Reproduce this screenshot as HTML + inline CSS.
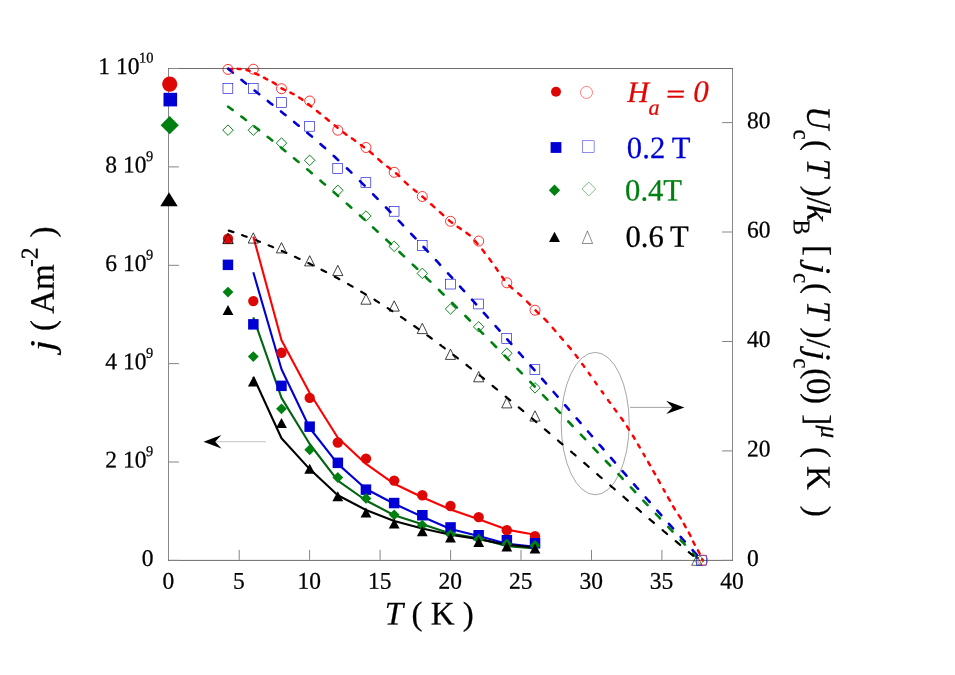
<!DOCTYPE html>
<html><head><meta charset="utf-8"><title>chart</title>
<style>
html,body{margin:0;padding:0;background:#fff;}
body{width:955px;height:675px;overflow:hidden;}
svg{display:block;will-change:transform;}
text{font-family:"Liberation Serif",serif;fill:#000;stroke:#000;stroke-width:0.25px;}
.i{font-style:italic;}
</style></head><body>
<svg width="955" height="675" viewBox="0 0 955 675">
<rect width="955" height="675" fill="#fff"/>
<path d="M168.5 68.0V560.9M732.5 68.0V560.9" stroke="#878787" stroke-width="1" fill="none"/>
<path d="M168 68.5H733M168 560.4H733" stroke="#6c6c6c" stroke-width="1" fill="none"/>
<g stroke="#858585" stroke-width="1" fill="none">
<path d="M169 560.4h9.9"/>
<path d="M169 462.0h9.9"/>
<path d="M169 363.6h9.9"/>
<path d="M169 265.3h9.9"/>
<path d="M169 166.9h9.9"/>
<path d="M169 68.5h9.9"/>
<path d="M732 560.4h-9.9"/>
<path d="M732 450.9h-9.9"/>
<path d="M732 341.5h-9.9"/>
<path d="M732 232.0h-9.9"/>
<path d="M732 122.6h-9.9"/>
<path d="M239.2 559.9v-10"/>
<path d="M309.6 559.9v-10"/>
<path d="M380.1 559.9v-10"/>
<path d="M450.6 559.9v-10"/>
<path d="M521.0 559.9v-10"/>
<path d="M591.5 559.9v-10"/>
<path d="M661.9 559.9v-10"/>
</g>
<ellipse cx="595.2" cy="423.6" rx="34" ry="71.2" fill="none" stroke="#808080" stroke-width="0.7"/>
<path d="M630.2 407.4H672.4" stroke="#8c8c8c" stroke-width="0.8"/>
<path d="M684.4 407.4L666.2 400.8L672.4 407.4L666.2 413.9Z" fill="#000"/>
<path d="M215.2 441.7H265.9" stroke="#bdbdbd" stroke-width="0.9"/>
<path d="M203.5 441.7L221.4 435L215.2 441.7L221.4 448.4Z" fill="#000"/>
<path d="M228.7 69.0L229.7 69.0L230.8 68.9L232.0 68.9M237.6 68.8L238.8 68.9L239.8 68.9L240.8 69.0M246.4 69.9L247.3 70.2L248.5 70.5L249.6 70.9M255.1 73.3L256.2 73.8L257.3 74.3L258.5 74.9M263.9 77.7L264.9 78.2L266.0 78.8L267.2 79.4M272.7 82.2L273.9 82.9L275.0 83.6L276.1 84.4M281.5 88.3L282.5 88.8L283.6 89.4L284.9 90.0M290.4 92.6L291.5 93.1L292.5 93.7L293.6 94.2M299.1 97.5L300.0 98.1L301.2 98.8L302.4 99.7M308.1 104.0L309.2 104.8L310.2 105.6L311.3 106.5M316.9 111.0L317.9 111.8L319.0 112.7L320.1 113.5M325.6 118.0L326.6 118.8L327.7 119.7L328.9 120.7M334.6 125.3L335.5 126.1L336.4 126.8L337.6 127.8M343.3 132.4L344.3 133.1L345.4 134.0L346.4 134.7M351.9 138.4L352.8 139.0L353.9 139.8L355.2 140.8M360.9 145.0L361.8 145.6L362.7 146.3L364.0 147.2M369.7 151.6L370.8 152.4L371.7 153.2L372.8 154.1M378.3 159.1L379.3 160.0L380.3 161.0L381.6 162.1M387.2 166.5L388.3 167.3L389.3 168.1L390.4 168.9M396.0 173.3L397.1 174.2L398.1 175.0L399.2 176.0M404.7 181.7L405.6 182.6L406.6 183.4L407.8 184.6M413.7 189.5L414.5 190.1L415.6 191.0L416.6 191.8M422.3 196.5L423.3 197.3L424.2 198.2L425.4 199.2M431.1 204.2L432.1 205.0L433.2 206.1L434.4 207.1M439.9 212.1L441.0 213.2L442.1 214.2L443.2 215.2M448.9 220.3L449.9 221.1L450.9 221.9L452.1 222.8M457.6 226.7L458.6 227.4L459.6 228.0L460.8 228.9M466.4 232.7L467.6 233.7L468.6 234.5L469.7 235.3M474.8 240.6L475.6 241.6L476.6 242.7L477.6 244.0M482.2 249.6L483.0 250.6L483.8 251.6L484.6 252.7M489.2 258.6L490.0 259.6L490.7 260.7L491.5 261.7M495.7 267.6L496.2 268.3L497.0 269.5L497.8 270.7M502.0 276.7L502.8 277.8L503.5 278.9L504.3 279.9M509.3 285.6L510.2 286.4L511.2 287.4L512.3 288.4M518.1 293.3L519.2 294.1L520.2 295.0L521.2 295.9M527.0 301.5L527.8 302.4L528.9 303.5L530.0 304.6M535.6 310.4L536.6 311.4L537.6 312.4L538.8 313.5M544.3 318.7L545.3 319.7L546.4 320.8L547.5 322.0M552.7 327.8L553.4 328.7L554.4 329.8L555.4 331.0M560.2 336.7L561.0 337.5L562.0 338.7L562.9 339.8M568.1 345.7L569.0 346.7L569.8 347.7L570.8 348.9M575.4 354.8L576.2 355.7L576.9 356.7L577.7 357.8M582.2 364.0L582.8 364.7L583.3 365.4L584.3 366.8M588.7 372.9L589.3 373.7L589.8 374.5L590.4 375.3M595.0 381.7L595.6 382.6L596.1 383.4L596.7 384.2M601.7 391.2L602.2 391.9L602.8 392.6L603.3 393.4M608.0 400.0L608.4 400.6L609.2 401.7L610.1 402.8M614.4 408.8L615.1 409.7L615.8 410.6L616.4 411.5M621.0 417.8L621.6 418.6L622.3 419.5L623.2 420.8M627.0 426.4L627.7 427.5L628.3 428.5L629.0 429.6M632.8 435.7L633.2 436.3L633.9 437.4L634.6 438.6M638.0 444.5L638.4 445.1L639.1 446.3L639.8 447.5M643.4 453.7L643.8 454.3L644.1 455.0L644.8 456.2M648.2 462.0L648.5 462.7L649.3 464.0L650.1 465.3M653.3 471.1L653.8 471.8L654.2 472.6L655.1 474.2M658.2 479.7L658.6 480.5L659.1 481.3L659.9 482.9M663.5 489.2L663.9 490.0L664.3 490.8L664.8 491.5M668.0 497.4L668.4 498.1L669.2 499.4L669.9 500.7M673.0 506.2L673.6 507.1L674.3 508.4L674.9 509.5M678.6 515.1L679.3 516.1L680.0 517.1L680.8 518.4M683.9 523.8L684.5 524.9L685.1 526.0L685.7 527.2M688.8 532.6L689.3 533.6L689.9 534.7L690.6 536.0M693.1 541.5L693.7 542.7L694.2 543.8L694.7 544.8M697.9 550.3L698.4 551.3L699.0 552.3L699.7 553.7M702.2 559.2L702.4 559.6L702.6 560.0L702.8 560.4" fill="none" stroke="#ff0000" stroke-width="2.45" stroke-linecap="round"/>
<path d="M228.2 68.7L229.7 70.0L231.2 71.3L232.8 72.6M241.4 79.8L242.9 81.1L244.4 82.3L246.0 83.6M254.6 90.6L256.1 91.8L257.6 93.0L259.2 94.2M267.8 101.0L269.3 102.2L270.8 103.4L272.3 104.6M281.0 111.5L282.5 112.7L284.0 113.9L285.5 115.1M294.1 122.0L295.6 123.2L297.1 124.4L298.7 125.7M307.3 132.8L308.8 134.1L310.3 135.3L311.9 136.6M320.5 144.1L322.0 145.4L323.5 146.7L325.1 148.1M333.7 155.9L335.2 157.3L336.7 158.7L338.2 160.1M346.9 168.3L348.4 169.7L349.9 171.2L351.4 172.7M360.0 181.1L361.5 182.6L363.0 184.1L364.6 185.7M373.2 194.3L374.6 195.8L376.1 197.3L377.6 198.9M386.0 207.5L387.5 209.0L388.9 210.5L390.4 212.1M398.7 220.7L400.2 222.2L401.6 223.7L403.1 225.3M411.2 233.8L412.6 235.3L414.1 236.9L415.5 238.4M423.6 247.0L425.0 248.5L426.4 250.0L427.9 251.6M435.9 260.2L437.3 261.7L438.7 263.2L440.1 264.8M448.0 273.4L449.4 274.9L450.8 276.4L452.2 277.9M460.1 286.6L461.4 288.1L462.8 289.6L464.2 291.1M472.0 299.7L473.3 301.2L474.7 302.7L476.1 304.3M483.8 312.9L485.2 314.4L486.5 315.9L487.9 317.5M495.6 326.1L496.9 327.6L498.3 329.1L499.6 330.6M507.3 339.3L508.6 340.8L510.0 342.3L511.3 343.9M518.9 352.5L520.2 353.9L521.6 355.5L522.9 357.0M530.5 365.7L531.8 367.1L533.2 368.7L534.5 370.2M542.1 378.8L543.4 380.3L544.7 381.8L546.0 383.4M553.6 392.0L554.9 393.5L556.2 395.0L557.6 396.6M565.1 405.2L566.4 406.7L567.7 408.2L569.0 409.7M576.6 418.4L577.9 419.9L579.2 421.4L580.5 422.9M588.0 431.5L589.3 433.0L590.6 434.5L592.0 436.1M599.5 444.8L600.8 446.2L602.1 447.7L603.5 449.3M611.0 457.9L612.3 459.4L613.6 460.9L615.0 462.5M622.5 471.1L623.8 472.6L625.2 474.1L626.5 475.7M634.1 484.3L635.4 485.8L636.7 487.3L638.1 488.8M645.7 497.5L647.0 499.0L648.3 500.5L649.7 502.0M657.3 510.6L658.6 512.2L660.0 513.7L661.3 515.2M669.0 523.8L670.3 525.3L671.7 526.9L673.0 528.4M680.7 537.0L682.1 538.5L683.4 540.0L684.8 541.6M692.6 550.2L693.9 551.7L695.3 553.2L696.7 554.7" fill="none" stroke="#0000d4" stroke-width="2.6" stroke-linecap="round"/>
<path d="M228.1 106.7L229.6 107.8L231.1 108.9L232.7 110.0M241.3 116.5L242.8 117.6L244.3 118.8L245.9 120.0M254.5 126.6L256.0 127.8L257.5 128.9L259.1 130.1M267.7 136.9L269.2 138.1L270.7 139.3L272.2 140.5M280.9 147.5L282.4 148.7L283.9 149.9L285.4 151.2M294.0 158.3L295.5 159.5L297.0 160.8L298.6 162.0M307.2 169.3L308.7 170.6L310.2 171.8L311.8 173.2M320.4 180.6L321.9 181.9L323.4 183.2L325.0 184.5M333.6 192.0L335.1 193.3L336.6 194.6L338.1 196.0M346.8 203.6L348.3 205.0L349.8 206.3L351.3 207.7M359.9 215.5L361.4 216.8L362.9 218.2L364.5 219.6M373.1 227.5L374.6 228.9L376.1 230.3L377.7 231.7M386.3 239.7L387.8 241.1L389.3 242.5L390.9 244.0M399.5 252.0L401.0 253.5L402.5 254.9L404.0 256.3M412.7 264.6L414.2 266.0L415.7 267.4L417.2 268.9M425.8 277.2L427.3 278.7L428.8 280.1L430.4 281.6M439.0 290.0L440.5 291.5L442.0 293.0L443.6 294.5M452.2 303.0L453.7 304.5L455.2 306.0L456.8 307.5M465.4 316.0L466.9 317.5L468.4 319.0L469.9 320.6M478.6 329.2L480.1 330.8L481.6 332.3L483.1 333.8M491.6 342.4L493.1 343.9L494.6 345.5L496.1 347.0M504.6 355.6L506.0 357.0L507.5 358.6L509.0 360.1M517.5 368.8L518.9 370.3L520.4 371.8L521.9 373.3M530.3 381.9L531.7 383.4L533.2 384.9L534.7 386.5M543.0 395.1L544.5 396.6L545.9 398.1L547.4 399.7M555.7 408.3L557.1 409.8L558.6 411.3L560.1 412.9M568.3 421.5L569.8 423.0L571.2 424.5L572.7 426.1M580.9 434.7L582.3 436.2L583.8 437.7L585.2 439.2M593.4 447.9L594.8 449.3L596.3 450.9L597.7 452.4M605.9 461.0L607.3 462.5L608.8 464.0L610.2 465.6M618.4 474.2L619.8 475.7L621.3 477.2L622.7 478.8M630.9 487.4L632.3 488.9L633.7 490.4L635.2 492.0M643.3 500.6L644.7 502.1L646.2 503.6L647.6 505.1M655.8 513.8L657.2 515.3L658.6 516.7L660.0 518.3M668.2 526.9L669.6 528.4L671.0 529.9L672.5 531.5M680.6 540.1L682.0 541.6L683.5 543.1L684.9 544.6M693.1 553.3L694.5 554.8L696.0 556.3L697.4 557.8" fill="none" stroke="#008011" stroke-width="2.6" stroke-linecap="round"/>
<path d="M228.8 230.6L230.3 231.1L231.8 231.6L233.4 232.1M242.1 235.1L243.6 235.7L245.1 236.2L246.6 236.8M255.3 240.0L256.8 240.6L258.3 241.2L259.9 241.8M268.6 245.3L270.1 245.9L271.6 246.5L273.1 247.2M281.8 250.9L283.3 251.5L284.8 252.2L286.4 252.9M295.0 256.8L296.5 257.5L298.0 258.2L299.6 258.9M308.3 263.1L309.8 263.8L311.3 264.6L312.8 265.3M321.5 269.7L323.0 270.5L324.5 271.3L326.1 272.1M334.8 276.7L336.3 277.5L337.8 278.3L339.3 279.2M348.0 284.0L349.5 284.9L351.0 285.7L352.6 286.6M361.2 291.7L362.7 292.6L364.2 293.5L365.8 294.4M374.5 299.7L376.0 300.7L377.5 301.6L379.0 302.6M387.7 308.1L389.2 309.1L390.7 310.1L392.3 311.1M401.0 316.9L402.5 317.9L404.0 318.9L405.5 320.0M414.2 326.0L415.7 327.0L417.2 328.1L418.7 329.2M427.3 335.3L428.8 336.4L430.3 337.5L431.8 338.6M440.3 344.9L441.8 346.1L443.3 347.2L444.8 348.3M453.4 354.9L454.9 356.0L456.4 357.2L457.9 358.3M466.5 365.0L468.0 366.1L469.5 367.3L471.0 368.5M479.6 375.3L481.1 376.5L482.6 377.7L484.1 378.9M492.6 385.8L494.1 387.1L495.6 388.3L497.1 389.5M505.7 396.6L507.2 397.8L508.7 399.0L510.2 400.3M518.8 407.4L520.3 408.6L521.8 409.9L523.3 411.1M531.9 418.3L533.4 419.6L534.9 420.9L536.4 422.1M544.9 429.4L546.4 430.6L547.9 431.9L549.4 433.2M558.0 440.5L559.5 441.8L561.0 443.1L562.5 444.3M571.1 451.7L572.6 453.0L574.1 454.2L575.6 455.5M584.2 462.9L585.7 464.2L587.2 465.5L588.7 466.8M597.2 474.2L598.7 475.5L600.2 476.8L601.7 478.0M610.3 485.5L611.8 486.8L613.3 488.0L614.8 489.3M623.4 496.7L624.9 498.0L626.4 499.3L627.9 500.6M636.5 507.9L638.0 509.2L639.5 510.5L641.0 511.8M649.5 519.1L651.0 520.4L652.5 521.6L654.0 522.9M662.6 530.2L664.1 531.5L665.6 532.7L667.1 534.0M675.7 541.2L677.2 542.4L678.7 543.7L680.2 545.0M688.8 552.1L690.3 553.4L691.8 554.6L693.3 555.8" fill="none" stroke="#000" stroke-width="2.2" stroke-linecap="round"/>
<path d="M253.3 236.6L281.5 340.3L309.7 393.0L337.8 437.7L366.0 463.9L394.2 483.8L422.3 497.3L450.5 509.5L478.7 519.3L506.8 529.6L535.0 534.8" fill="none" stroke="#ff0000" stroke-width="2.1" stroke-linejoin="round"/>
<path d="M253.3 272.3L281.5 369.2L309.7 428.0L337.8 463.9L366.0 489.0L394.2 503.7L422.3 516.8L450.5 529.0L478.7 535.9L506.8 543.7L535.0 546.8" fill="none" stroke="#0000d4" stroke-width="2.1" stroke-linejoin="round"/>
<path d="M253.3 317.3L281.5 397.9L309.7 444.0L337.8 480.6L366.0 500.5L394.2 515.2L422.3 524.2L450.5 533.6L478.7 538.4L506.8 546.1L535.0 548.4" fill="none" stroke="#006411" stroke-width="2.1" stroke-linejoin="round"/>
<path d="M253.3 376.8L281.5 438.3L309.7 469.1L337.8 495.3L366.0 510.0L394.2 521.0L422.3 528.4L450.5 534.7L478.7 539.1L506.8 544.7L535.0 547.5" fill="none" stroke="#000" stroke-width="2.1" stroke-linejoin="round"/>
<circle cx="228.0" cy="69.4" r="5" fill="none" stroke="#ff0000" stroke-width="0.8"/>
<circle cx="253.3" cy="69.2" r="5" fill="none" stroke="#ff0000" stroke-width="0.8"/>
<circle cx="281.5" cy="88.7" r="5" fill="none" stroke="#ff0000" stroke-width="0.8"/>
<circle cx="309.7" cy="101.0" r="5" fill="none" stroke="#ff0000" stroke-width="0.8"/>
<circle cx="337.8" cy="130.2" r="5" fill="none" stroke="#ff0000" stroke-width="0.8"/>
<circle cx="366.0" cy="147.5" r="5" fill="none" stroke="#ff0000" stroke-width="0.8"/>
<circle cx="394.2" cy="172.3" r="5" fill="none" stroke="#ff0000" stroke-width="0.8"/>
<circle cx="422.3" cy="196.5" r="5" fill="none" stroke="#ff0000" stroke-width="0.8"/>
<circle cx="450.5" cy="221.3" r="5" fill="none" stroke="#ff0000" stroke-width="0.8"/>
<circle cx="478.7" cy="241.1" r="5" fill="none" stroke="#ff0000" stroke-width="0.8"/>
<circle cx="506.8" cy="282.8" r="5" fill="none" stroke="#ff0000" stroke-width="0.8"/>
<circle cx="535.0" cy="310.2" r="5" fill="none" stroke="#ff0000" stroke-width="0.8"/>
<rect x="223.0" y="83.5" width="9.8" height="9.8" fill="none" stroke="#0000d4" stroke-width="0.6"/>
<rect x="248.3" y="83.5" width="9.8" height="9.8" fill="none" stroke="#0000d4" stroke-width="0.6"/>
<rect x="276.5" y="97.7" width="9.8" height="9.8" fill="none" stroke="#0000d4" stroke-width="0.6"/>
<rect x="304.7" y="121.4" width="9.8" height="9.8" fill="none" stroke="#0000d4" stroke-width="0.6"/>
<rect x="332.8" y="163.5" width="9.8" height="9.8" fill="none" stroke="#0000d4" stroke-width="0.6"/>
<rect x="361.0" y="177.7" width="9.8" height="9.8" fill="none" stroke="#0000d4" stroke-width="0.6"/>
<rect x="389.2" y="206.4" width="9.8" height="9.8" fill="none" stroke="#0000d4" stroke-width="0.6"/>
<rect x="417.3" y="240.5" width="9.8" height="9.8" fill="none" stroke="#0000d4" stroke-width="0.6"/>
<rect x="445.5" y="279.2" width="9.8" height="9.8" fill="none" stroke="#0000d4" stroke-width="0.6"/>
<rect x="473.7" y="299.1" width="9.8" height="9.8" fill="none" stroke="#0000d4" stroke-width="0.6"/>
<rect x="501.8" y="333.5" width="9.8" height="9.8" fill="none" stroke="#0000d4" stroke-width="0.6"/>
<rect x="530.0" y="364.7" width="9.8" height="9.8" fill="none" stroke="#0000d4" stroke-width="0.6"/>
<path d="M228.0 124.9L233.2 130.2L228.0 135.4L222.7 130.2Z" fill="none" stroke="#008011" stroke-width="0.95"/>
<path d="M253.3 124.9L258.6 130.2L253.3 135.4L248.1 130.2Z" fill="none" stroke="#008011" stroke-width="0.95"/>
<path d="M281.5 137.8L286.7 143.1L281.5 148.3L276.2 143.1Z" fill="none" stroke="#008011" stroke-width="0.95"/>
<path d="M309.7 155.1L314.9 160.3L309.7 165.6L304.4 160.3Z" fill="none" stroke="#008011" stroke-width="0.95"/>
<path d="M337.8 185.1L343.1 190.3L337.8 195.6L332.6 190.3Z" fill="none" stroke="#008011" stroke-width="0.95"/>
<path d="M366.0 210.8L371.2 216.0L366.0 221.2L360.7 216.0Z" fill="none" stroke="#008011" stroke-width="0.95"/>
<path d="M394.2 241.1L399.4 246.3L394.2 251.6L388.9 246.3Z" fill="none" stroke="#008011" stroke-width="0.95"/>
<path d="M422.3 268.1L427.6 273.4L422.3 278.6L417.1 273.4Z" fill="none" stroke="#008011" stroke-width="0.95"/>
<path d="M450.5 303.8L455.8 309.0L450.5 314.2L445.3 309.0Z" fill="none" stroke="#008011" stroke-width="0.95"/>
<path d="M478.7 321.6L483.9 326.8L478.7 332.1L473.4 326.8Z" fill="none" stroke="#008011" stroke-width="0.95"/>
<path d="M506.8 348.1L512.1 353.3L506.8 358.6L501.6 353.3Z" fill="none" stroke="#008011" stroke-width="0.95"/>
<path d="M535.0 382.6L540.3 387.8L535.0 393.1L529.8 387.8Z" fill="none" stroke="#008011" stroke-width="0.95"/>
<path d="M228.0 233.1L233.1 243.4L222.9 243.4Z" fill="none" stroke="#000" stroke-width="0.75"/>
<path d="M253.3 232.8L258.4 243.1L248.2 243.1Z" fill="none" stroke="#000" stroke-width="0.75"/>
<path d="M281.5 242.6L286.6 252.9L276.4 252.9Z" fill="none" stroke="#000" stroke-width="0.75"/>
<path d="M309.7 255.7L314.8 265.9L304.6 265.9Z" fill="none" stroke="#000" stroke-width="0.75"/>
<path d="M337.8 265.3L342.9 275.6L332.7 275.6Z" fill="none" stroke="#000" stroke-width="0.75"/>
<path d="M366.0 294.0L371.1 304.2L360.9 304.2Z" fill="none" stroke="#000" stroke-width="0.75"/>
<path d="M394.2 300.8L399.3 311.1L389.1 311.1Z" fill="none" stroke="#000" stroke-width="0.75"/>
<path d="M422.3 323.3L427.4 333.6L417.2 333.6Z" fill="none" stroke="#000" stroke-width="0.75"/>
<path d="M450.5 349.1L455.6 359.4L445.4 359.4Z" fill="none" stroke="#000" stroke-width="0.75"/>
<path d="M478.7 371.5L483.8 381.8L473.6 381.8Z" fill="none" stroke="#000" stroke-width="0.75"/>
<path d="M506.8 397.6L511.9 407.9L501.7 407.9Z" fill="none" stroke="#000" stroke-width="0.75"/>
<path d="M535.0 410.8L540.1 421.1L529.9 421.1Z" fill="none" stroke="#000" stroke-width="0.75"/>
<path d="M696.9 555.3L702.1 565.3L691.7 565.3Z" fill="none" stroke="#000" stroke-width="0.6"/>
<path d="M699.2 554.9L704.5 560.2L699.2 565.5L693.9 560.2Z" fill="none" stroke="#008011" stroke-width="0.7"/>
<rect x="696.5" y="555.2" width="10" height="10" fill="none" stroke="#0000d4" stroke-width="0.6"/>
<circle cx="702.8" cy="560.2" r="5" fill="none" stroke="#ff0000" stroke-width="0.6"/>
<circle cx="228.0" cy="238.7" r="5.2" fill="#dd0806" stroke="none" stroke-width="0"/>
<circle cx="253.3" cy="301.1" r="5.2" fill="#dd0806" stroke="none" stroke-width="0"/>
<circle cx="281.5" cy="352.8" r="5.2" fill="#dd0806" stroke="none" stroke-width="0"/>
<circle cx="309.7" cy="397.9" r="5.2" fill="#dd0806" stroke="none" stroke-width="0"/>
<circle cx="337.8" cy="442.5" r="5.2" fill="#dd0806" stroke="none" stroke-width="0"/>
<circle cx="366.0" cy="458.6" r="5.2" fill="#dd0806" stroke="none" stroke-width="0"/>
<circle cx="394.2" cy="480.6" r="5.2" fill="#dd0806" stroke="none" stroke-width="0"/>
<circle cx="422.3" cy="495.2" r="5.2" fill="#dd0806" stroke="none" stroke-width="0"/>
<circle cx="450.5" cy="506.0" r="5.2" fill="#dd0806" stroke="none" stroke-width="0"/>
<circle cx="478.7" cy="517.1" r="5.2" fill="#dd0806" stroke="none" stroke-width="0"/>
<circle cx="506.8" cy="530.2" r="5.2" fill="#dd0806" stroke="none" stroke-width="0"/>
<circle cx="535.0" cy="536.3" r="5.2" fill="#dd0806" stroke="none" stroke-width="0"/>
<rect x="222.7" y="259.6" width="10.5" height="10.5" fill="#0000d4" stroke="none" stroke-width="0"/>
<rect x="248.1" y="319.1" width="10.5" height="10.5" fill="#0000d4" stroke="none" stroke-width="0"/>
<rect x="276.2" y="380.6" width="10.5" height="10.5" fill="#0000d4" stroke="none" stroke-width="0"/>
<rect x="304.4" y="421.4" width="10.5" height="10.5" fill="#0000d4" stroke="none" stroke-width="0"/>
<rect x="332.6" y="457.6" width="10.5" height="10.5" fill="#0000d4" stroke="none" stroke-width="0"/>
<rect x="360.7" y="484.4" width="10.5" height="10.5" fill="#0000d4" stroke="none" stroke-width="0"/>
<rect x="388.9" y="497.8" width="10.5" height="10.5" fill="#0000d4" stroke="none" stroke-width="0"/>
<rect x="417.1" y="510.0" width="10.5" height="10.5" fill="#0000d4" stroke="none" stroke-width="0"/>
<rect x="445.3" y="522.2" width="10.5" height="10.5" fill="#0000d4" stroke="none" stroke-width="0"/>
<rect x="473.4" y="530.0" width="10.5" height="10.5" fill="#0000d4" stroke="none" stroke-width="0"/>
<rect x="501.6" y="535.0" width="10.5" height="10.5" fill="#0000d4" stroke="none" stroke-width="0"/>
<rect x="529.8" y="538.0" width="10.5" height="10.5" fill="#0000d4" stroke="none" stroke-width="0"/>
<path d="M228.0 286.7L233.4 292.1L228.0 297.5L222.6 292.1Z" fill="#008011" stroke="none" stroke-width="0"/>
<path d="M253.3 351.2L258.7 356.6L253.3 362.0L247.9 356.6Z" fill="#008011" stroke="none" stroke-width="0"/>
<path d="M281.5 403.4L286.9 408.8L281.5 414.2L276.1 408.8Z" fill="#008011" stroke="none" stroke-width="0"/>
<path d="M309.7 444.4L315.1 449.8L309.7 455.2L304.3 449.8Z" fill="#008011" stroke="none" stroke-width="0"/>
<path d="M337.8 472.1L343.2 477.5L337.8 482.9L332.4 477.5Z" fill="#008011" stroke="none" stroke-width="0"/>
<path d="M366.0 493.0L371.4 498.4L366.0 503.8L360.6 498.4Z" fill="#008011" stroke="none" stroke-width="0"/>
<path d="M394.2 509.4L399.6 514.8L394.2 520.2L388.8 514.8Z" fill="#008011" stroke="none" stroke-width="0"/>
<path d="M422.3 519.8L427.7 525.2L422.3 530.6L416.9 525.2Z" fill="#008011" stroke="none" stroke-width="0"/>
<path d="M450.5 529.2L455.9 534.6L450.5 540.0L445.1 534.6Z" fill="#008011" stroke="none" stroke-width="0"/>
<path d="M478.7 533.8L484.1 539.2L478.7 544.6L473.3 539.2Z" fill="#008011" stroke="none" stroke-width="0"/>
<path d="M506.8 538.5L512.2 543.9L506.8 549.3L501.4 543.9Z" fill="#008011" stroke="none" stroke-width="0"/>
<path d="M535.0 540.1L540.4 545.5L535.0 550.9L529.6 545.5Z" fill="#008011" stroke="none" stroke-width="0"/>
<path d="M228.0 305.0L233.4 315.0L222.6 315.0Z" fill="#000" stroke="none" stroke-width="0"/>
<path d="M253.3 376.5L258.7 386.5L247.9 386.5Z" fill="#000" stroke="none" stroke-width="0"/>
<path d="M281.5 418.0L286.9 428.0L276.1 428.0Z" fill="#000" stroke="none" stroke-width="0"/>
<path d="M309.7 463.7L315.1 473.7L304.3 473.7Z" fill="#000" stroke="none" stroke-width="0"/>
<path d="M337.8 491.3L343.2 501.3L332.4 501.3Z" fill="#000" stroke="none" stroke-width="0"/>
<path d="M366.0 507.5L371.4 517.5L360.6 517.5Z" fill="#000" stroke="none" stroke-width="0"/>
<path d="M394.2 518.6L399.6 528.6L388.8 528.6Z" fill="#000" stroke="none" stroke-width="0"/>
<path d="M422.3 526.3L427.7 536.3L416.9 536.3Z" fill="#000" stroke="none" stroke-width="0"/>
<path d="M450.5 532.4L455.9 542.4L445.1 542.4Z" fill="#000" stroke="none" stroke-width="0"/>
<path d="M478.7 537.0L484.1 547.0L473.3 547.0Z" fill="#000" stroke="none" stroke-width="0"/>
<path d="M506.8 541.4L512.2 551.4L501.4 551.4Z" fill="#000" stroke="none" stroke-width="0"/>
<path d="M535.0 543.5L540.4 553.5L529.6 553.5Z" fill="#000" stroke="none" stroke-width="0"/>
<path d="M228.0 233.7L233.2 243.7L222.8 243.7Z" fill="none" stroke="#000" stroke-width="0.6"/>
<circle cx="169.7" cy="84.1" r="7.6" fill="#dd0806" stroke="none" stroke-width="0"/>
<rect x="163.5" y="92.8" width="13.6" height="13.6" fill="#0000d4" stroke="none" stroke-width="0"/>
<path d="M169.7 116.1L178.8 125.2L169.7 134.3L160.6 125.2Z" fill="#008011" stroke="none" stroke-width="0"/>
<path d="M169 192.2L177.7 206.2L160.3 206.2Z" fill="#000"/>
<circle cx="556.0" cy="91.8" r="5" fill="#dd0806" stroke="none" stroke-width="0"/>
<circle cx="586.5" cy="92.4" r="6" fill="none" stroke="#ff0000" stroke-width="0.5"/>
<rect x="550.6" y="142.1" width="10.8" height="10.8" fill="#0000d4" stroke="none" stroke-width="0"/>
<rect x="582.3" y="140.8" width="11.8" height="11.8" fill="none" stroke="#0000d4" stroke-width="0.45"/>
<path d="M554.5 184.6L560.2 190.3L554.5 196.0L548.8 190.3Z" fill="#008011" stroke="none" stroke-width="0"/>
<path d="M588.8 182.1L595.7 189.0L588.8 195.9L581.9 189.0Z" fill="none" stroke="#008011" stroke-width="0.5"/>
<path d="M554.5 231.7L560.0 242.1L549.0 242.1Z" fill="#000" stroke="none" stroke-width="0"/>
<path d="M587.4 230.9L592.6 243.5L582.2 243.5Z" fill="none" stroke="#000" stroke-width="0.45"/>
<text transform="translate(627.2,101.9) rotate(0.03) scale(1,0.99)" font-size="30" class="i" style="fill:#dd0806;stroke:#dd0806">H</text>
<text transform="translate(648.6,114.8) rotate(0.03) scale(1,1.0)" font-size="22" class="i" style="fill:#dd0806;stroke:#dd0806">a</text>
<path d="M667.8 90.4h16.2v2.1h-16.2zM667.4 95.7h16.2v2.1h-16.2z" fill="#dd0806"/>
<text transform="translate(693.3,101.8) rotate(0.03) scale(1,1.0)" font-size="31" class="i" style="fill:#dd0806;stroke:#dd0806">0</text>
<text transform="translate(626.7,158.0) rotate(0.03) scale(1.02,1.03)" font-size="30" style="fill:#0000d4;stroke:#0000d4" letter-spacing="0.2" word-spacing="-1.2">0.2 T</text>
<text transform="translate(625.1,200.6) rotate(0.03) scale(1.02,1.03)" font-size="30" style="fill:#008011;stroke:#008011">0.4T</text>
<text transform="translate(625.5,246.8) rotate(0.03) scale(1.02,1.03)" font-size="30" word-spacing="-0.8">0.6 T</text>
<text transform="translate(139.4,74.1) rotate(0.03) scale(1,1.02)" font-size="23.5" text-anchor="end">1 10</text><text transform="translate(139.1,62.6) rotate(0.03) scale(1,1.03)" font-size="14.4">10</text>
<text transform="translate(146.4,172.5) rotate(0.03) scale(1,1.02)" font-size="23.5" text-anchor="end">8 10</text><text transform="translate(146.1,161.0) rotate(0.03) scale(1,1.03)" font-size="14.4">9</text>
<text transform="translate(146.4,270.9) rotate(0.03) scale(1,1.02)" font-size="23.5" text-anchor="end">6 10</text><text transform="translate(146.1,259.4) rotate(0.03) scale(1,1.03)" font-size="14.4">9</text>
<text transform="translate(146.4,369.2) rotate(0.03) scale(1,1.02)" font-size="23.5" text-anchor="end">4 10</text><text transform="translate(146.1,357.7) rotate(0.03) scale(1,1.03)" font-size="14.4">9</text>
<text transform="translate(146.4,467.6) rotate(0.03) scale(1,1.02)" font-size="23.5" text-anchor="end">2 10</text><text transform="translate(146.1,456.1) rotate(0.03) scale(1,1.03)" font-size="14.4">9</text>
<text transform="translate(153.4,566.0) rotate(0.03) scale(1,1.02)" font-size="23.5" text-anchor="end">0</text>
<text transform="translate(747.0,566.0) rotate(0.03) scale(1,1.02)" font-size="23.5">0</text>
<text transform="translate(747.0,456.6) rotate(0.03) scale(1,1.02)" font-size="23.5">20</text>
<text transform="translate(747.0,347.1) rotate(0.03) scale(1,1.02)" font-size="23.5">40</text>
<text transform="translate(747.0,237.6) rotate(0.03) scale(1,1.02)" font-size="23.5">60</text>
<text transform="translate(747.0,128.2) rotate(0.03) scale(1,1.02)" font-size="23.5">80</text>
<text transform="translate(168.4,588.8) rotate(0.03) scale(1,1.02)" font-size="23.5" text-anchor="middle">0</text>
<text transform="translate(238.9,588.8) rotate(0.03) scale(1,1.02)" font-size="23.5" text-anchor="middle">5</text>
<text transform="translate(309.3,588.8) rotate(0.03) scale(1,1.02)" font-size="23.5" text-anchor="middle">10</text>
<text transform="translate(379.8,588.8) rotate(0.03) scale(1,1.02)" font-size="23.5" text-anchor="middle">15</text>
<text transform="translate(450.2,588.8) rotate(0.03) scale(1,1.02)" font-size="23.5" text-anchor="middle">20</text>
<text transform="translate(520.7,588.8) rotate(0.03) scale(1,1.02)" font-size="23.5" text-anchor="middle">25</text>
<text transform="translate(591.2,588.8) rotate(0.03) scale(1,1.02)" font-size="23.5" text-anchor="middle">30</text>
<text transform="translate(661.6,588.8) rotate(0.03) scale(1,1.02)" font-size="23.5" text-anchor="middle">35</text>
<text transform="translate(732.1,588.8) rotate(0.03) scale(1,1.02)" font-size="23.5" text-anchor="middle">40</text>
<text transform="translate(384.8,624.6) rotate(0.03) scale(1,1.0)" font-size="33"><tspan class="i">T</tspan> ( K )</text>
<g transform="translate(53.8,0) rotate(-90)">
<text transform="translate(-351.0,0.0) rotate(0.03) scale(1.18,1.04)" font-size="33" class="i">j</text>
<text transform="translate(-331.0,0.0) rotate(0.03) scale(1,1.04)" font-size="33">(</text>
<text transform="translate(-313.8,0.0) rotate(0.03) scale(1,1.04)" font-size="33">Am</text>
<text transform="translate(-267.0,-16.0) rotate(0.03) scale(1,1.04)" font-size="23.5">-2</text>
<text transform="translate(-237.6,0.0) rotate(0.03) scale(1,1.04)" font-size="33">)</text>
</g>
<g transform="translate(807.3,0) rotate(90)">
<text transform="translate(106.3,0.0) rotate(0.03) scale(0.97,1.035)" font-size="33" class="i">U</text>
<text transform="translate(129.4,13.5) rotate(0.03) scale(1,1.035)" font-size="23">c</text>
<text transform="translate(140.0,0.0) rotate(0.03) scale(1,1.035)" font-size="33">(</text>
<text transform="translate(158.7,0.0) rotate(0.03) scale(1,1.035)" font-size="33" class="i">T</text>
<text transform="translate(185.7,0.0) rotate(0.03) scale(1,1.035)" font-size="33">)</text>
<text transform="translate(197.0,0.0) rotate(0.03) scale(1,1.035)" font-size="33">/</text>
<text transform="translate(204.5,0.0) rotate(0.03) scale(1.12,1.035)" font-size="33" class="i">k</text>
<text transform="translate(219.6,13.5) rotate(0.03) scale(1,1.035)" font-size="23">B</text>
<text transform="translate(245.0,0.0) rotate(0.03) scale(1,1.035)" font-size="33">[</text>
<text transform="translate(263.6,0.0) rotate(0.03) scale(1.14,1.035)" font-size="33" class="i">j</text>
<text transform="translate(273.0,13.5) rotate(0.03) scale(1,1.035)" font-size="23">c</text>
<text transform="translate(283.0,0.0) rotate(0.03) scale(1,1.035)" font-size="33">(</text>
<text transform="translate(301.0,0.0) rotate(0.03) scale(1,1.035)" font-size="33" class="i">T</text>
<text transform="translate(327.5,0.0) rotate(0.03) scale(1,1.035)" font-size="33">)</text>
<text transform="translate(338.7,0.0) rotate(0.03) scale(1,1.035)" font-size="33">/</text>
<text transform="translate(350.0,0.0) rotate(0.03) scale(1.14,1.035)" font-size="33" class="i">j</text>
<text transform="translate(358.2,13.5) rotate(0.03) scale(1,1.035)" font-size="23">c</text>
<text transform="translate(368.3,0.0) rotate(0.03) scale(1,1.035)" font-size="33" letter-spacing="-1.4">(0)</text>
<text transform="translate(414.2,0.0) rotate(0.03) scale(1,1.035)" font-size="33">]</text>
<text transform="translate(425.5,-14.0) rotate(0.03) scale(1,1.035)" font-size="25" class="i">μ</text>
<text transform="translate(447.0,0.0) rotate(0.03) scale(1,1.035)" font-size="33">(</text>
<text transform="translate(466.0,0.0) rotate(0.03) scale(1,1.035)" font-size="33">K</text>
<text transform="translate(505.8,0.0) rotate(0.03) scale(1,1.035)" font-size="33">)</text>
</g>
</svg></body></html>
